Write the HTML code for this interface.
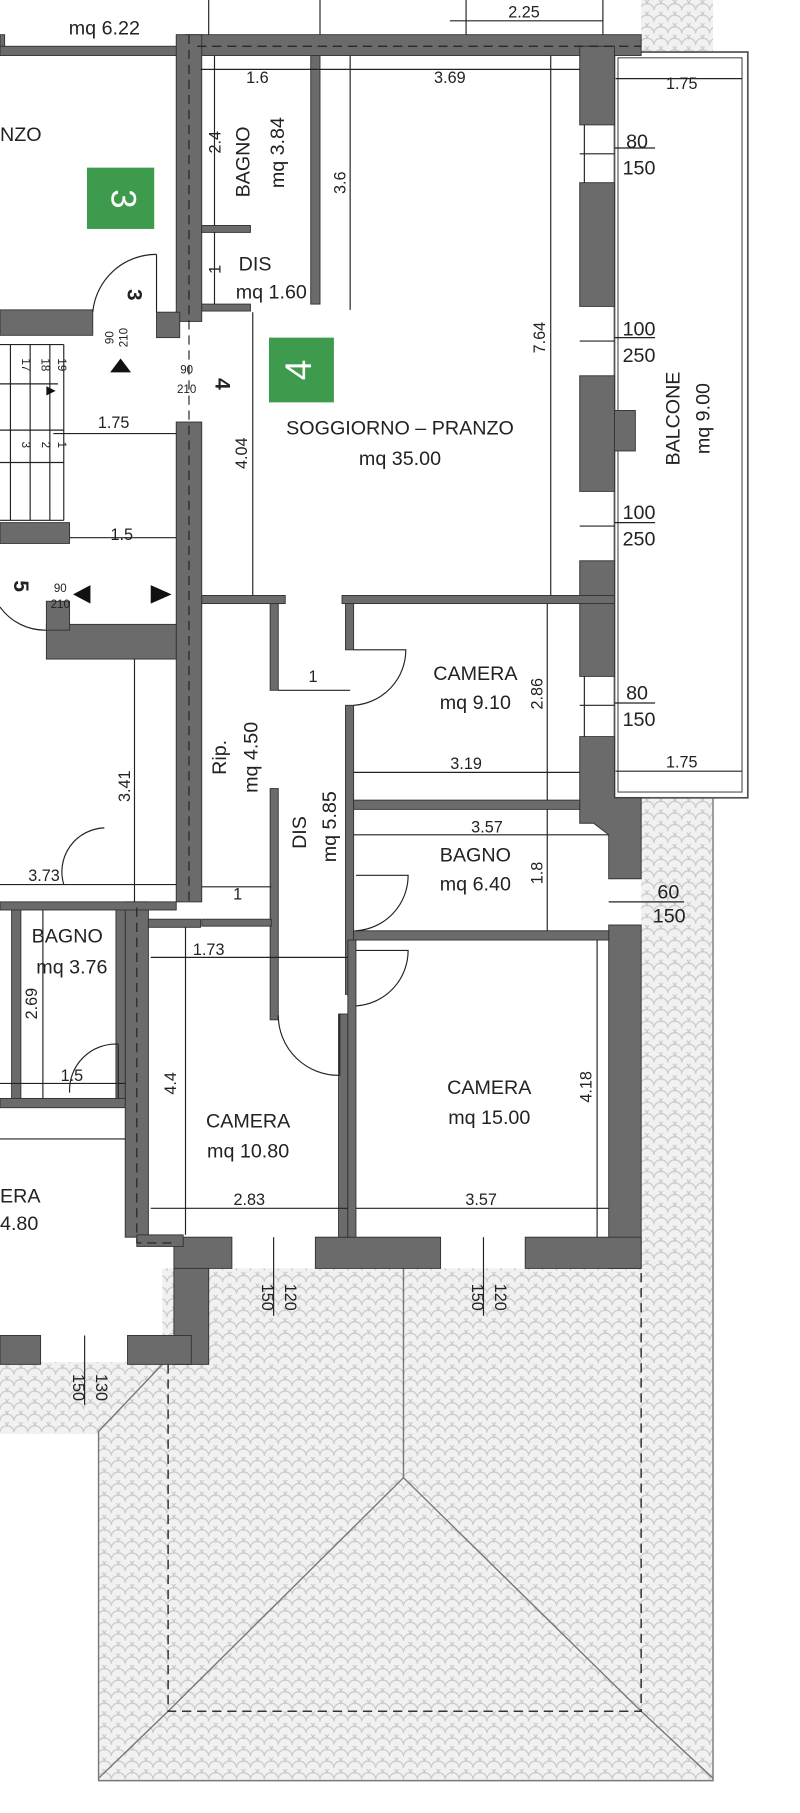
<!DOCTYPE html>
<html><head><meta charset="utf-8"><style>
html,body{margin:0;padding:0;background:#fff;}
svg{display:block;}
text{font-family:"Liberation Sans",sans-serif;fill:#222;}
</style></head><body>
<svg width="800" height="1813" viewBox="0 0 690 1568" preserveAspectRatio="none" xmlns="http://www.w3.org/2000/svg">
<defs>
<pattern id="tile" width="12" height="10" patternUnits="userSpaceOnUse">
<rect width="12" height="10" fill="#f1f1f1"/>
<path d="M0 9 A6 6 0 0 1 12 9 M-6 4 A6 6 0 0 1 6 4 M6 4 A6 6 0 0 1 18 4" fill="none" stroke="#c8c8c8" stroke-width="1"/>
</pattern>
</defs>
<!-- roof areas -->
<rect x="553" y="0" width="62" height="1100" fill="url(#tile)"/>
<polygon points="85,1238 140,1180 140,1097 615,1097 615,1540 85,1540" fill="url(#tile)"/>
<rect x="0" y="1178" width="140" height="62" fill="url(#tile)"/>
<polygon points="0,1240 85,1240 140,1180 0,1180" fill="url(#tile)"/>
<rect x="518" y="45" width="128" height="645" fill="#fff"/>
<!-- roof lines -->
<g stroke="#777" stroke-width="1.2" fill="none">
<polyline points="140,1180 85,1238 85,1540 615,1540 615,690"/>
<line x1="348" y1="1097" x2="348" y2="1278"/>
<line x1="348" y1="1278" x2="145" y2="1480"/>
<line x1="348" y1="1278" x2="553" y2="1480"/>
<line x1="145" y1="1480" x2="85" y2="1538"/>
<line x1="553" y1="1480" x2="615" y2="1538"/>
</g>
<g stroke="#333" stroke-width="1.3" fill="none" stroke-dasharray="8,5">
<polyline points="145,1180 145,1480 553,1480 553,1097"/>
</g>
<!-- balcony -->
<rect x="530" y="45" width="115" height="645" fill="#fff" stroke="#555" stroke-width="1.5"/>
<rect x="533" y="50" width="107" height="635" fill="none" stroke="#555" stroke-width="1"/>
<g fill="#6b6b6b" stroke="#333" stroke-width="0.8">
<!-- top wall -->
<rect x="160" y="30" width="393" height="18"/>
<rect x="0" y="40" width="160" height="8"/>
<!-- main left wall -->
<rect x="152" y="30" width="22" height="248"/>
<rect x="152" y="365" width="22" height="415"/>
<!-- right wall -->
<rect x="500" y="40" width="30" height="68"/>
<rect x="500" y="158" width="30" height="107"/>
<rect x="500" y="325" width="30" height="100"/>
<rect x="530" y="355" width="18" height="35"/>
<rect x="500" y="485" width="30" height="100"/>
<polygon points="500,637 530,637 530,690 553,690 553,760 525,760 525,722 512,712 500,712"/>
<rect x="525" y="800" width="28" height="297"/>
<!-- bottom wall -->
<rect x="150" y="1070" width="50" height="27"/>
<rect x="272" y="1070" width="108" height="27"/>
<rect x="453" y="1070" width="100" height="27"/>
<rect x="150" y="1097" width="30" height="83"/>
<rect x="110" y="1155" width="55" height="25"/>
<rect x="0" y="1155" width="35" height="25"/>
<!-- bagno/dis walls -->
<rect x="268" y="48" width="8" height="215"/>
<rect x="174" y="195" width="42" height="6"/>
<rect x="174" y="263" width="42" height="6"/>
<!-- middle horizontal walls -->
<rect x="174" y="515" width="72" height="7"/>
<rect x="295" y="515" width="235" height="7"/>
<rect x="233" y="522" width="7" height="75"/>
<rect x="233" y="682" width="7" height="200"/>
<rect x="174" y="795" width="60" height="6"/>
<rect x="298" y="522" width="7" height="40"/>
<rect x="298" y="610" width="7" height="250"/>
<rect x="305" y="692" width="195" height="8"/>
<rect x="305" y="805" width="220" height="8"/>
<rect x="292" y="877" width="8" height="193"/>
<rect x="300" y="813" width="7" height="257"/>
<!-- left lower walls -->
<rect x="108" y="780" width="20" height="290"/>
<rect x="128" y="795" width="45" height="7"/>
<rect x="118" y="1068" width="40" height="10"/>
<rect x="10" y="785" width="8" height="165"/>
<rect x="100" y="785" width="8" height="170"/>
<rect x="0" y="950" width="108" height="8"/>
<rect x="0" y="780" width="152" height="7"/>
<!-- left stairs area walls -->
<rect x="0" y="268" width="80" height="22"/>
<rect x="135" y="270" width="20" height="22"/>
<rect x="0" y="452" width="60" height="18"/>
<rect x="40" y="540" width="112" height="30"/>
<rect x="40" y="520" width="20" height="25"/>
<rect x="0" y="30" width="4" height="10"/>
</g>
<!-- thin lines: dims and inner lines -->
<g stroke="#222" stroke-width="1" fill="none">
<line x1="173" y1="60" x2="500" y2="60"/>
<line x1="531" y1="68" x2="640" y2="68"/>
<line x1="531" y1="667" x2="640" y2="667"/>
<line x1="185" y1="48" x2="185" y2="195"/>
<line x1="185" y1="201" x2="185" y2="263"/>
<line x1="302" y1="48" x2="302" y2="268"/>
<line x1="475" y1="48" x2="475" y2="515"/>
<line x1="218" y1="270" x2="218" y2="515"/>
<line x1="240" y1="597" x2="302" y2="597"/>
<line x1="305" y1="668" x2="500" y2="668"/>
<line x1="472" y1="522" x2="472" y2="692"/>
<line x1="305" y1="722" x2="525" y2="722"/>
<line x1="472" y1="700" x2="472" y2="805"/>
<line x1="174" y1="767" x2="234" y2="767"/>
<line x1="130" y1="828" x2="300" y2="828"/>
<line x1="160" y1="802" x2="160" y2="1068"/>
<line x1="130" y1="1045" x2="300" y2="1045"/>
<line x1="307" y1="1045" x2="525" y2="1045"/>
<line x1="515" y1="813" x2="515" y2="1070"/>
<line x1="46" y1="375" x2="152" y2="375"/>
<line x1="60" y1="465" x2="152" y2="465"/>
<line x1="116" y1="570" x2="116" y2="780"/>
<line x1="0" y1="765" x2="152" y2="765"/>
<line x1="37" y1="787" x2="37" y2="950"/>
<line x1="0" y1="937" x2="108" y2="937"/>
<line x1="0" y1="985" x2="108" y2="985"/>
<line x1="402" y1="0" x2="402" y2="30"/>
<line x1="388" y1="18" x2="520" y2="18"/>
<line x1="276" y1="0" x2="276" y2="30"/>
<line x1="180" y1="0" x2="180" y2="30"/>
<line x1="520" y1="0" x2="520" y2="30"/>
<!-- windows -->
<line x1="500" y1="133" x2="530" y2="133"/><line x1="530" y1="128" x2="565" y2="128"/>
<line x1="500" y1="295" x2="530" y2="295"/><line x1="530" y1="292" x2="565" y2="292"/>
<line x1="500" y1="455" x2="530" y2="455"/><line x1="530" y1="452" x2="565" y2="452"/>
<line x1="500" y1="610" x2="530" y2="610"/><line x1="530" y1="608" x2="565" y2="608"/>
<line x1="525" y1="780" x2="590" y2="780"/>
<line x1="236" y1="1070" x2="236" y2="1138"/>
<line x1="417" y1="1070" x2="417" y2="1138"/>
<line x1="73" y1="1155" x2="73" y2="1215"/>
<line x1="504" y1="108" x2="504" y2="158"/><line x1="504" y1="585" x2="504" y2="637"/>
<!-- stairs -->
<line x1="0" y1="298" x2="55" y2="298"/><line x1="0" y1="450" x2="55" y2="450"/>
<line x1="9" y1="298" x2="9" y2="450"/><line x1="26" y1="298" x2="26" y2="450"/><line x1="43" y1="298" x2="43" y2="450"/><line x1="55" y1="298" x2="55" y2="450"/>
<line x1="0" y1="332" x2="50" y2="332"/><line x1="0" y1="372" x2="55" y2="372"/><line x1="0" y1="400" x2="55" y2="400"/>
<!-- door arcs -->
<path d="M305 562 L350 562 A48 48 0 0 1 305 610"/>
<path d="M307 757 L352 757 A48 48 0 0 1 307 805"/>
<path d="M307 822 L352 822 A48 48 0 0 1 307 870"/>
<path d="M240 878 A52 52 0 0 0 293 930 L293 877"/>
<path d="M135 220 A55 55 0 0 0 80 270"/>
<line x1="135" y1="220" x2="135" y2="270"/>
<path d="M0 525 A48 48 0 0 0 40 545"/>
<path d="M102 903 A40 40 0 0 0 60 945"/><line x1="102" y1="903" x2="102" y2="950"/>
<path d="M90 716 A38 38 0 0 0 55 765"/>
</g>
<!-- dashed lines in left wall -->
<g stroke="#222" stroke-width="1" stroke-dasharray="8,5" fill="none">
<line x1="163" y1="30" x2="163" y2="780"/>
<polyline points="118,785 118,1075 150,1075"/>
<line x1="170" y1="40" x2="553" y2="40"/>
</g>
<!-- arrows -->
<g fill="#111">
<polygon points="104,310 95,322 113,322"/>
<polygon points="63,514 78,506 78,522"/>
<polygon points="130,506 148,514 130,522"/>
<polygon points="40,334 48,338 40,342"/>
</g>
<!-- green boxes -->
<rect x="75" y="145" width="58" height="53" fill="#3e9b4e"/>
<text x="104" y="172" font-size="30" fill="#fff" style="fill:#fff" text-anchor="middle" dominant-baseline="middle" transform="rotate(90 104 172)">3</text>
<rect x="232" y="292" width="56" height="56" fill="#3e9b4e"/>
<text x="260" y="320" font-size="32" style="fill:#fff" text-anchor="middle" dominant-baseline="middle" transform="rotate(-90 260 320)">4</text>
<!-- bold rotated numbers -->
<g font-weight="bold" font-size="18">
<text x="110" y="255" text-anchor="middle" transform="rotate(90 110 255)">3</text>
<text x="186" y="332" text-anchor="middle" transform="rotate(90 186 332)">4</text>
<text x="12" y="507" text-anchor="middle" transform="rotate(90 12 507)">5</text>
</g>
<!-- labels -->
<g font-size="17">
<text x="90" y="30" text-anchor="middle">mq 6.22</text>
<text x="0" y="122">NZO</text>
<text x="345" y="376" text-anchor="middle">SOGGIORNO – PRANZO</text>
<text x="345" y="402" text-anchor="middle">mq 35.00</text>
<text x="220" y="234" text-anchor="middle">DIS</text>
<text x="234" y="258" text-anchor="middle">mq 1.60</text>
<text x="410" y="588" text-anchor="middle">CAMERA</text>
<text x="410" y="613" text-anchor="middle">mq 9.10</text>
<text x="410" y="745" text-anchor="middle">BAGNO</text>
<text x="410" y="770" text-anchor="middle">mq 6.40</text>
<text x="422" y="946" text-anchor="middle">CAMERA</text>
<text x="422" y="972" text-anchor="middle">mq 15.00</text>
<text x="214" y="975" text-anchor="middle">CAMERA</text>
<text x="214" y="1001" text-anchor="middle">mq 10.80</text>
<text x="58" y="815" text-anchor="middle">BAGNO</text>
<text x="62" y="842" text-anchor="middle">mq 3.76</text>
<text x="0" y="1040">ERA</text>
<text x="0" y="1064">4.80</text>
<text x="215" y="140" text-anchor="middle" transform="rotate(-90 215 140)">BAGNO</text>
<text x="245" y="132" text-anchor="middle" transform="rotate(-90 245 132)">mq 3.84</text>
<text x="195" y="655" text-anchor="middle" transform="rotate(-90 195 655)">Rip.</text>
<text x="222" y="655" text-anchor="middle" transform="rotate(-90 222 655)">mq 4.50</text>
<text x="264" y="720" text-anchor="middle" transform="rotate(-90 264 720)">DIS</text>
<text x="290" y="715" text-anchor="middle" transform="rotate(-90 290 715)">mq 5.85</text>
<text x="586" y="362" text-anchor="middle" transform="rotate(-90 586 362)">BALCONE</text>
<text x="612" y="362" text-anchor="middle" transform="rotate(-90 612 362)">mq 9.00</text>
<text x="540" y="128">80</text><text x="537" y="151">150</text>
<text x="537" y="290">100</text><text x="537" y="313">250</text>
<text x="537" y="449">100</text><text x="537" y="472">250</text>
<text x="540" y="605">80</text><text x="537" y="628">150</text>
<text x="567" y="777">60</text><text x="563" y="798">150</text>
</g>
<g font-size="14">
<text x="222" y="72" text-anchor="middle">1.6</text>
<text x="388" y="72" text-anchor="middle">3.69</text>
<text x="588" y="77" text-anchor="middle">1.75</text>
<text x="588" y="664" text-anchor="middle">1.75</text>
<text x="452" y="15" text-anchor="middle">2.25</text>
<text x="98" y="370" text-anchor="middle">1.75</text>
<text x="105" y="467" text-anchor="middle">1.5</text>
<text x="270" y="590" text-anchor="middle">1</text>
<text x="402" y="665" text-anchor="middle">3.19</text>
<text x="420" y="720" text-anchor="middle">3.57</text>
<text x="205" y="778" text-anchor="middle">1</text>
<text x="180" y="826" text-anchor="middle">1.73</text>
<text x="215" y="1042" text-anchor="middle">2.83</text>
<text x="415" y="1042" text-anchor="middle">3.57</text>
<text x="38" y="762" text-anchor="middle">3.73</text>
<text x="62" y="935" text-anchor="middle">1.5</text>
<text x="190" y="123" text-anchor="middle" transform="rotate(-90 190 123)">2.4</text>
<text x="190" y="233" text-anchor="middle" transform="rotate(-90 190 233)">1</text>
<text x="298" y="158" text-anchor="middle" transform="rotate(-90 298 158)">3.6</text>
<text x="470" y="292" text-anchor="middle" transform="rotate(-90 470 292)">7.64</text>
<text x="213" y="392" text-anchor="middle" transform="rotate(-90 213 392)">4.04</text>
<text x="468" y="600" text-anchor="middle" transform="rotate(-90 468 600)">2.86</text>
<text x="468" y="755" text-anchor="middle" transform="rotate(-90 468 755)">1.8</text>
<text x="510" y="940" text-anchor="middle" transform="rotate(-90 510 940)">4.18</text>
<text x="152" y="937" text-anchor="middle" transform="rotate(-90 152 937)">4.4</text>
<text x="112" y="680" text-anchor="middle" transform="rotate(-90 112 680)">3.41</text>
<text x="32" y="868" text-anchor="middle" transform="rotate(-90 32 868)">2.69</text>
<text x="226" y="1122" text-anchor="middle" transform="rotate(90 226 1122)">150</text>
<text x="246" y="1122" text-anchor="middle" transform="rotate(90 246 1122)">120</text>
<text x="407" y="1122" text-anchor="middle" transform="rotate(90 407 1122)">150</text>
<text x="427" y="1122" text-anchor="middle" transform="rotate(90 427 1122)">120</text>
<text x="63" y="1200" text-anchor="middle" transform="rotate(90 63 1200)">150</text>
<text x="83" y="1200" text-anchor="middle" transform="rotate(90 83 1200)">130</text>
</g>
<g font-size="10">
<text x="98" y="292" text-anchor="middle" transform="rotate(-90 98 292)">90</text>
<text x="110" y="292" text-anchor="middle" transform="rotate(-90 110 292)">210</text>
<text x="161" y="323" text-anchor="middle">90</text>
<text x="161" y="340" text-anchor="middle">210</text>
<text x="52" y="512" text-anchor="middle">90</text>
<text x="52" y="526" text-anchor="middle">210</text>
<text x="19" y="310" transform="rotate(90 19 310)">17</text>
<text x="36" y="310" transform="rotate(90 36 310)">18</text>
<text x="50" y="310" transform="rotate(90 50 310)">19</text>
<text x="19" y="382" transform="rotate(90 19 382)">3</text>
<text x="36" y="382" transform="rotate(90 36 382)">2</text>
<text x="50" y="382" transform="rotate(90 50 382)">1</text>
</g>
</svg>
</body></html>
